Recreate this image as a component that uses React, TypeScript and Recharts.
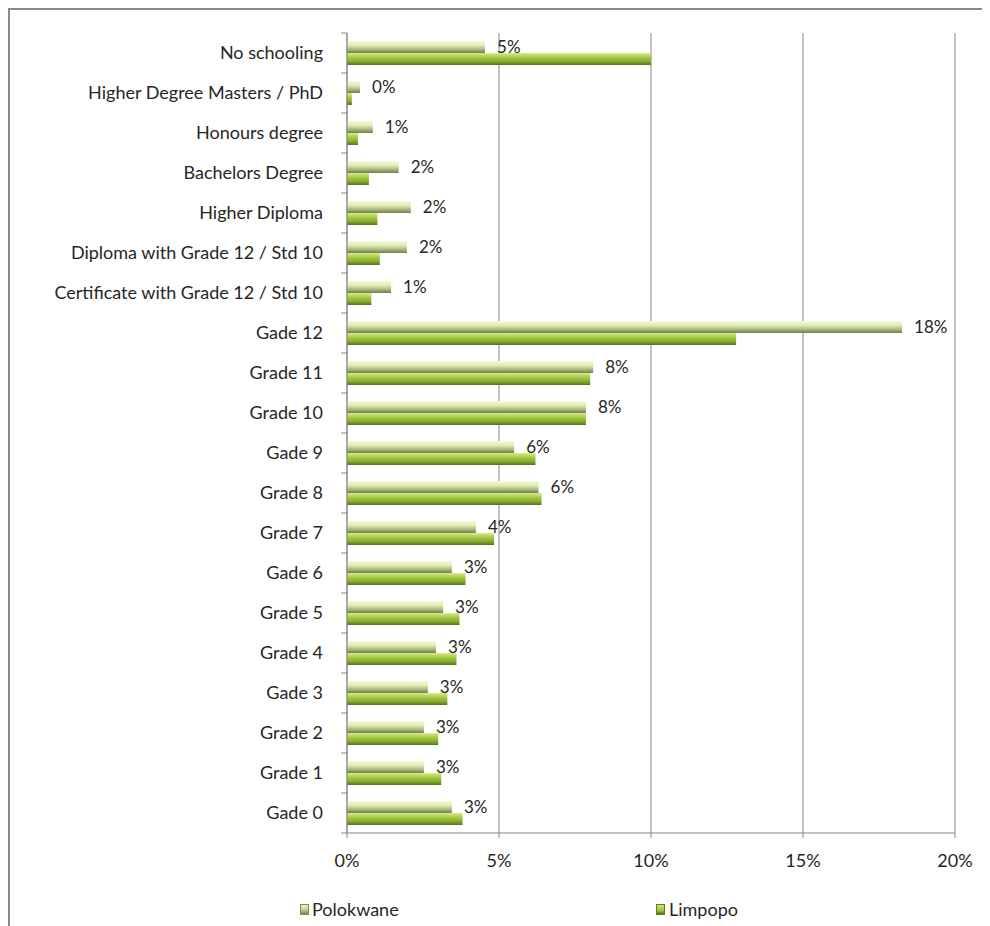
import React from 'react';
import { BarChart, Bar, XAxis, YAxis, CartesianGrid, LabelList, Legend } from 'recharts';

const categories = [
  'No schooling',
  'Higher Degree Masters / PhD',
  'Honours degree',
  'Bachelors Degree',
  'Higher Diploma',
  'Diploma with Grade 12 / Std 10',
  'Certificate with Grade 12 / Std 10',
  'Gade 12',
  'Grade 11',
  'Grade 10',
  'Gade 9',
  'Grade 8',
  'Grade 7',
  'Gade 6',
  'Grade 5',
  'Grade 4',
  'Gade 3',
  'Grade 2',
  'Grade 1',
  'Gade 0',
];

// percentages
const polokwane = [4.54, 0.43, 0.85, 1.7, 2.1, 1.97, 1.45, 18.26, 8.1, 7.86, 5.5, 6.3, 4.24, 3.45, 3.16, 2.93, 2.66, 2.53, 2.53, 3.45];
const limpopo = [10.0, 0.16, 0.36, 0.72, 1.0, 1.08, 0.8, 12.8, 8.0, 7.86, 6.2, 6.4, 4.84, 3.9, 3.7, 3.6, 3.3, 3.0, 3.1, 3.8];

const xTicks = [0, 5, 10, 15, 20];

const data = categories.map((name, i) => ({ name, polokwane: polokwane[i], limpopo: limpopo[i] }));

const FONT = 'Lato, "Open Sans", sans-serif';
const TEXT = '#262626';
const AXIS = '#868686';
const LABEL_GAP = 24;

const CategoryTick = (props: any) => {
  const { x, y, payload, index } = props;
  const half = payload && payload.offset ? payload.offset : 20;
  const axisX = x + LABEL_GAP;
  return (
    <g>
      <line x1={axisX - 6} x2={axisX} y1={y - half} y2={y - half} stroke={AXIS} />
      {index === categories.length - 1 && (
        <line x1={axisX - 6} x2={axisX} y1={y + half} y2={y + half} stroke={AXIS} />
      )}
      <text x={x} y={y} dy={6} textAnchor="end" fill={TEXT} fontSize={18} fontFamily={FONT}>
        {payload.value}
      </text>
    </g>
  );
};

const LegendContent = () => (
  <div style={{ position: 'relative', height: 24, fontFamily: FONT, fontSize: 18, color: TEXT }}>
    <div style={{ position: 'absolute', left: 290, top: 0, display: 'flex', alignItems: 'center', lineHeight: '24px' }}>
      <span style={{ width: 7, height: 9, marginRight: 3, background: 'linear-gradient(#eef5d2, #b8c98a 60%, #77864c)', border: '1px solid #7f8d55' }} />
      Polokwane
    </div>
    <div style={{ position: 'absolute', left: 646, top: 0, display: 'flex', alignItems: 'center', lineHeight: '24px' }}>
      <span style={{ width: 7, height: 9, marginRight: 4, background: 'linear-gradient(#cfe685, #9fc23c 60%, #5b7a1c)', border: '1px solid #5b7a1c' }} />
      Limpopo
    </div>
  </div>
);

export default function App() {
  return (
    <div
      style={{
        position: 'relative',
        width: 982,
        height: 918,
        borderTop: '2px solid #8a8a8a',
        borderLeft: '2px solid #8a8a8a',
        boxSizing: 'border-box',
        background: '#fff',
      }}
    >
      <BarChart
        layout="vertical"
        data={data}
        width={980}
        height={916}
        margin={{ top: 23, right: 35, left: 0, bottom: 29 }}
        barCategoryGap={8}
        barGap={0}
      >
        <defs>
          <linearGradient id="gPolokwane" x1="0" y1="0" x2="0" y2="1">
            <stop offset="0%" stopColor="#f4f9de" />
            <stop offset="35%" stopColor="#e2edb8" />
            <stop offset="65%" stopColor="#b3c289" />
            <stop offset="100%" stopColor="#707e48" />
          </linearGradient>
          <linearGradient id="gLimpopo" x1="0" y1="0" x2="0" y2="1">
            <stop offset="0%" stopColor="#d6ec8e" />
            <stop offset="35%" stopColor="#a9cb46" />
            <stop offset="70%" stopColor="#88ab2d" />
            <stop offset="100%" stopColor="#55731a" />
          </linearGradient>
        </defs>
        <CartesianGrid horizontal={false} stroke={AXIS} />
        <XAxis
          type="number"
          domain={[0, 20]}
          ticks={xTicks}
          tickFormatter={(v: number) => `${v}%`}
          axisLine={{ stroke: AXIS }}
          tickLine={{ stroke: AXIS }}
          tickSize={5}
          tickMargin={16}
          height={40}
          tick={{ fill: TEXT, fontSize: 18, fontFamily: FONT }}
        />
        <YAxis
          type="category"
          dataKey="name"
          width={337}
          axisLine={{ stroke: AXIS }}
          tickLine={false}
          tickSize={6}
          tickMargin={LABEL_GAP - 6}
          interval={0}
          tick={<CategoryTick />}
        />
        <Legend verticalAlign="bottom" height={24} wrapperStyle={{ left: 0, bottom: 5 }} content={<LegendContent />} />
        <Bar dataKey="polokwane" name="Polokwane" fill="url(#gPolokwane)" isAnimationActive={false}>
          <LabelList
            dataKey="polokwane"
            position="right"
            offset={12}
            formatter={(v: number) => `${Math.round(v)}%`}
            style={{ fill: TEXT, fontSize: 17, fontFamily: FONT }}
          />
        </Bar>
        <Bar dataKey="limpopo" name="Limpopo" fill="url(#gLimpopo)" isAnimationActive={false} />
      </BarChart>
    </div>
  );
}
